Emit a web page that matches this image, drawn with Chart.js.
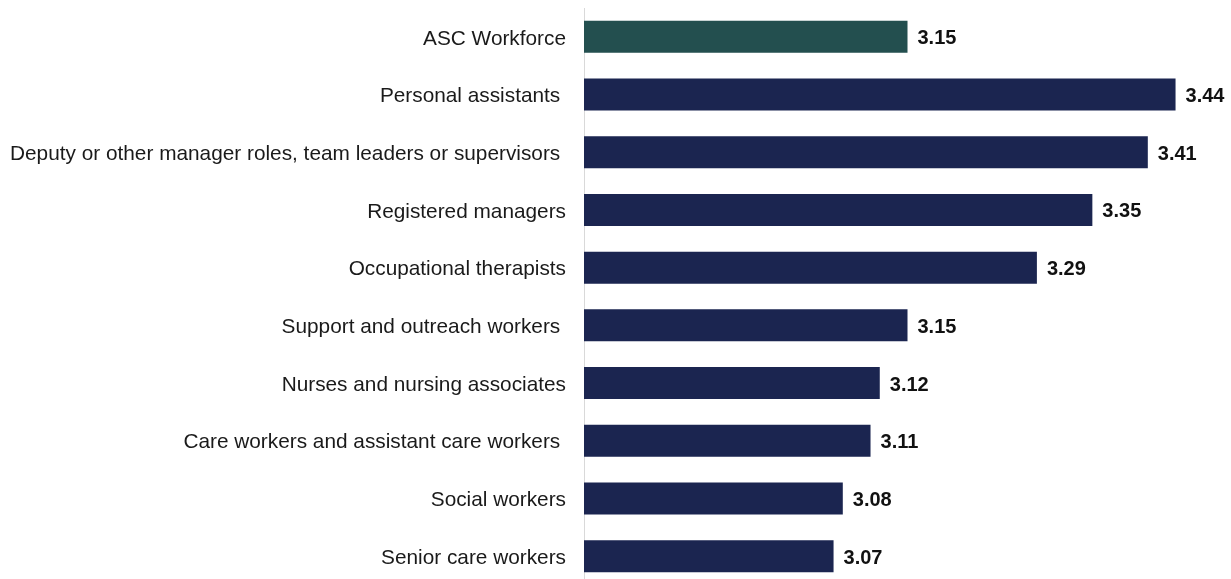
<!DOCTYPE html>
<html>
<head>
<meta charset="utf-8">
<script src="https://cdn.jsdelivr.net/npm/chart.js@4"></script>
<style>
  html, body { margin: 0; padding: 0; background: #fff; overflow: hidden; }
  #wrap { position: relative; width: 1231px; height: 585px; }
</style>
</head>
<body>
<div id="wrap"><canvas id="bar"></canvas></div>
<script>
// Role categories (trailing spaces kept as in the source labels)
const roles = [
  'ASC Workforce',
  'Personal assistants ',
  'Deputy or other manager roles, team leaders or supervisors ',
  'Registered managers',
  'Occupational therapists',
  'Support and outreach workers ',
  'Nurses and nursing associates',
  'Care workers and assistant care workers ',
  'Social workers',
  'Senior care workers'
];
const scores = [3.15, 3.44, 3.41, 3.35, 3.29, 3.15, 3.12, 3.11, 3.08, 3.07];
const barColours = ['#234f4f', '#1b2550', '#1b2550', '#1b2550', '#1b2550',
  '#1b2550', '#1b2550', '#1b2550', '#1b2550', '#1b2550'];

// draw the value at the end of each bar
const valueLabels = {
  id: 'valueLabels',
  afterDatasetsDraw(chart) {
    const ctx = chart.ctx;
    const meta = chart.getDatasetMeta(0);
    ctx.save();
    ctx.font = 'bold 20px "Liberation Sans", Arial, sans-serif';
    ctx.fillStyle = '#111';
    ctx.textBaseline = 'middle';
    ctx.textAlign = 'left';
    meta.data.forEach((bar, i) => {
      ctx.fillText(scores[i].toFixed(2), bar.x + 10, bar.y + 2);
    });
    ctx.restore();
  }
};

const barConfig = {
  type: 'bar',
  data: {
    labels: roles,
    datasets: [{
      data: scores,
      backgroundColor: barColours,
      barPercentage: 0.555,
      categoryPercentage: 1.0
    }]
  },
  options: {
    indexAxis: 'y',
    responsive: true,
    maintainAspectRatio: false,
    animation: false,
    layout: { padding: { top: 8, right: 0, bottom: 0, left: 0 } },
    plugins: {
      legend: { display: false },
      tooltip: { enabled: false }
    },
    scales: {
      x: {
        display: false,
        min: 2.8,
        max: 3.5
      },
      y: {
        afterFit(scale) {
          scale.width = 584;
          scale.paddingTop = 0;
          scale.paddingBottom = 0;
        },
        grid: { display: false, drawTicks: false },
        border: { display: true, color: '#d9d9d9', width: 1 },
        ticks: {
          padding: 18,
          labelOffset: 2,
          color: '#1a1a1a',
          font: { family: '"Liberation Sans", Arial, sans-serif', size: 20.8 }
        }
      }
    }
  },
  plugins: [valueLabels]
};

window.myBar = new Chart(document.getElementById('bar'), barConfig);
</script>
</body>
</html>
